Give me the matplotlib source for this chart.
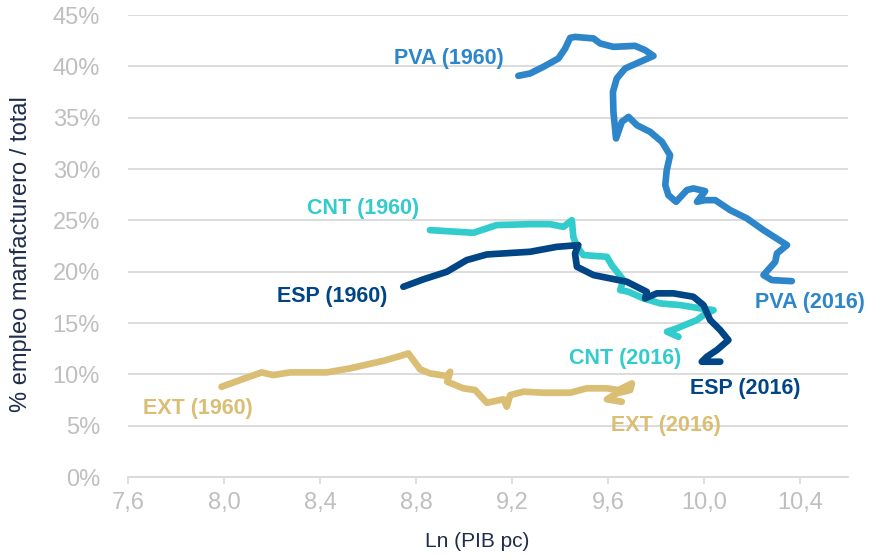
import matplotlib
matplotlib.use("Agg")
import matplotlib.pyplot as plt
from matplotlib.ticker import FuncFormatter, MultipleLocator

plt.rcParams['font.family'] = ['Liberation Sans', 'DejaVu Sans']

# Ln(GDP per capita) vs manufacturing employment share (%), 1960-2016
pva_x = [9.226, 9.275, 9.330, 9.393, 9.421, 9.442, 9.463, 9.539, 9.567, 9.622,
         9.712, 9.754, 9.789, 9.733, 9.671, 9.636, 9.620, 9.622, 9.633, 9.657,
         9.685, 9.720, 9.775, 9.824, 9.858, 9.844, 9.838, 9.851, 9.883, 9.928,
         9.955, 10.004, 9.970, 10.004, 10.046, 10.108, 10.178, 10.247, 10.345,
         10.303, 10.296, 10.247, 10.282, 10.365]
pva_y = [39.08, 39.31, 39.95, 40.77, 41.74, 42.78, 42.87, 42.72, 42.23, 41.90,
         42.00, 41.58, 41.02, 40.44, 39.80, 38.82, 37.52, 35.57, 32.98, 34.60,
         35.08, 34.27, 33.62, 32.65, 31.35, 29.89, 28.43, 27.46, 26.81, 27.95,
         28.11, 27.85, 26.81, 26.97, 26.97, 26.00, 25.19, 24.05, 22.59,
         21.78, 20.96, 19.67, 19.18, 19.08]

cnt_x = [8.858, 9.039, 9.136, 9.275, 9.358, 9.414, 9.449, 9.455, 9.470, 9.497,
         9.595, 9.615, 9.664, 9.650, 9.685, 9.747, 9.817, 9.900, 9.983, 10.039,
         9.997, 9.970, 9.886, 9.845, 9.893]
cnt_y = [24.05, 23.79, 24.54, 24.63, 24.63, 24.37, 25.02, 23.40, 22.42, 21.62,
         21.45, 20.64, 19.18, 18.21, 18.04, 17.40, 16.91, 16.75, 16.43, 16.26,
         15.77, 15.29, 14.48, 14.15, 13.66]

esp_x = [8.747, 8.830, 8.928, 9.011, 9.095, 9.275, 9.386, 9.476, 9.462, 9.470,
         9.539, 9.678, 9.733, 9.761, 9.754, 9.803, 9.872, 9.955, 9.997, 10.025,
         10.067, 10.101, 10.053, 10.011, 9.990, 10.067]
esp_y = [18.53, 19.25, 19.99, 21.13, 21.68, 21.94, 22.42, 22.59, 21.78, 20.48,
         19.67, 19.02, 18.37, 18.04, 17.40, 17.89, 17.89, 17.56, 16.75, 15.29,
         14.31, 13.34, 12.37, 11.71, 11.23, 11.23]

ext_x = [7.990, 8.067, 8.157, 8.205, 8.275, 8.428, 8.525, 8.664, 8.733, 8.768,
         8.817, 8.858, 8.928, 8.942, 8.930, 8.997, 9.046, 9.095, 9.164, 9.178,
         9.192, 9.247, 9.330, 9.442, 9.511, 9.595, 9.643, 9.699, 9.692, 9.636,
         9.595, 9.657]
ext_y = [8.79, 9.44, 10.19, 9.93, 10.19, 10.19, 10.58, 11.32, 11.78, 12.04,
         10.49, 10.10, 9.83, 10.25, 9.28, 8.64, 8.47, 7.23, 7.57, 6.85,
         7.98, 8.31, 8.21, 8.21, 8.64, 8.64, 8.47, 9.12, 8.47, 8.15,
         7.57, 7.33]

series_names = ["PVA", "CNT", "ESP", "EXT"]
series_colors = {"PVA": "#2E86CA", "CNT": "#33CCCC", "ESP": "#004586", "EXT": "#D9BE74"}
series_data = {"PVA": (pva_x, pva_y), "CNT": (cnt_x, cnt_y),
               "ESP": (esp_x, esp_y), "EXT": (ext_x, ext_y)}

# End-point annotations: (series, text, x, y)
annotations = [
    ("PVA", "PVA (1960)", 8.938, 40.8),
    ("PVA", "PVA (2016)", 10.442, 17.04),
    ("CNT", "CNT (1960)", 8.579, 26.19),
    ("CNT", "CNT (2016)", 9.671, 11.59),
    ("ESP", "ESP (1960)", 8.45, 17.62),
    ("ESP", "ESP (2016)", 10.171, 8.67),
    ("EXT", "EXT (1960)", 7.892, 6.72),
    ("EXT", "EXT (2016)", 9.842, 5.06),
]

fig = plt.figure(figsize=(8.7, 5.57), dpi=100)
ax = fig.add_axes([0.147, 0.1436, 0.828, 0.8294])

for name in series_names:
    xs, ys = series_data[name]
    ax.plot(xs, ys, color=series_colors[name], lw=4.8,
            solid_capstyle='round', solid_joinstyle='round', zorder=3)

for name, txt, x, y in annotations:
    ax.text(x, y, txt, color=series_colors[name], fontsize=15.5, fontweight='bold',
            ha='center', va='center', zorder=4)

ax.set_xlim(7.6, 10.6)
ax.set_ylim(0, 45)
ax.xaxis.set_major_locator(MultipleLocator(0.4))
ax.yaxis.set_major_locator(MultipleLocator(5))
ax.xaxis.set_major_formatter(FuncFormatter(lambda v, p: f"{v:.1f}".replace('.', ',')))
ax.yaxis.set_major_formatter(FuncFormatter(lambda v, p: f"{v:.0f}%"))

ax.grid(axis='y', color='#D9D9D9', lw=1.3, zorder=0)
ax.set_axisbelow(True)
for s in ['top', 'right', 'left']:
    ax.spines[s].set_visible(False)
ax.spines['bottom'].set_color('#D9D9D9')
ax.spines['bottom'].set_linewidth(1.3)

ax.tick_params(axis='x', colors='#BFBFBF', labelsize=17, length=5, width=1.2,
               direction='out', pad=6)
ax.tick_params(axis='x', color='#D9D9D9')
ax.tick_params(axis='y', colors='#BFBFBF', labelsize=17, length=0, pad=20)

ax.set_xlabel("Ln (PIB pc)", fontsize=15, color='#1F2D4D')
ax.xaxis.set_label_coords(0.485, -0.118)
ax.set_ylabel("% empleo manfacturero / total", fontsize=17, color='#1F2D4D')
ax.yaxis.set_label_coords(-0.133, 0.483)

fig.savefig("out.png", dpi=100)
